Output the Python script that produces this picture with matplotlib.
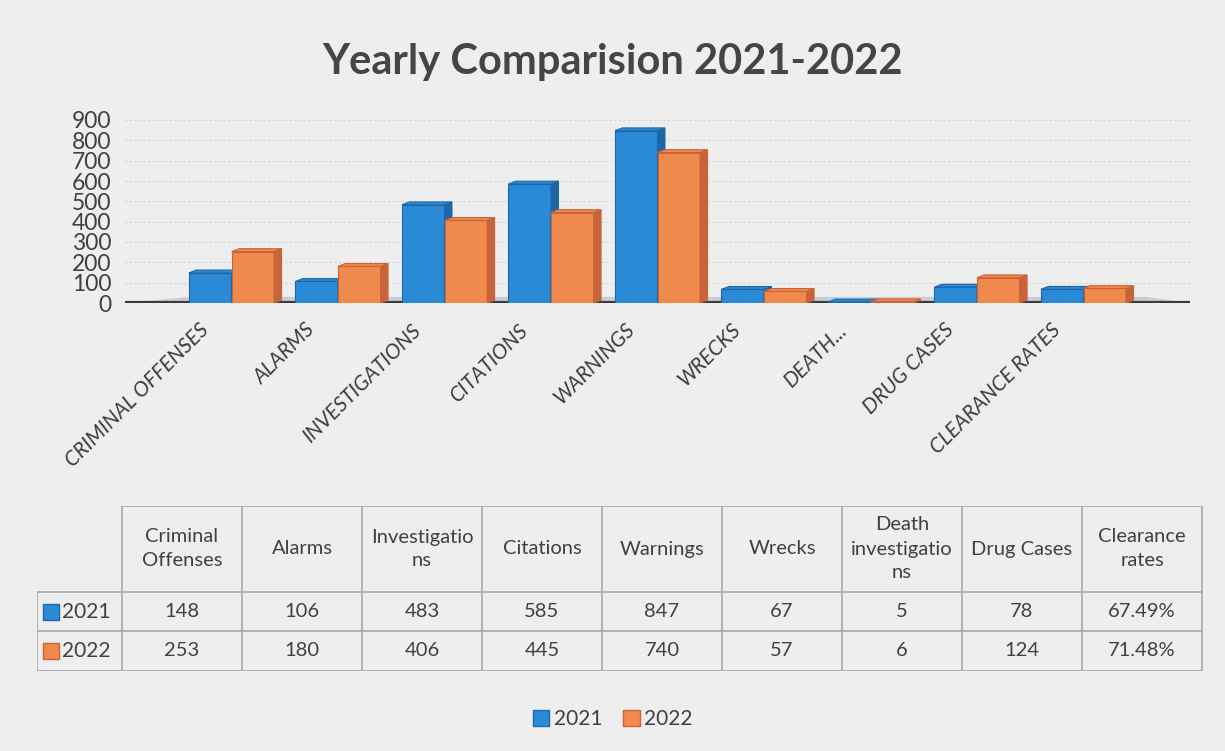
#
# plot.py - yearly comparison 2021-2022, bars with a data table under them
#
import matplotlib
matplotlib.use("Agg")
import matplotlib.pyplot as plt
from matplotlib.patches import Polygon, Rectangle, Patch
from matplotlib.transforms import ScaledTranslation

plt.rcParams['font.family'] = ['Lato', 'DejaVu Sans']

categories = ["CRIMINAL OFFENSES", "ALARMS", "INVESTIGATIONS", "CITATIONS", "WARNINGS",
              "WRECKS", "DEATH...", "DRUG CASES", "CLEARANCE RATES"]
header_labels = ["Criminal\nOffenses", "Alarms", "Investigatio\nns", "Citations", "Warnings",
                 "Wrecks", "Death\ninvestigatio\nns", "Drug Cases", "Clearance\nrates"]
years = ["2021", "2022"]
values_2021 = [148, 106, 483, 585, 847, 67, 5, 78, 67.49]
values_2022 = [253, 180, 406, 445, 740, 57, 6, 124, 71.48]
text_2021 = ["148", "106", "483", "585", "847", "67", "5", "78", "67.49%"]
text_2022 = ["253", "180", "406", "445", "740", "57", "6", "124", "71.48%"]

BLUE = "#2b8ad6"
BLUE_DARK = "#1d67a8"
ORANGE = "#f08a4c"
ORANGE_DARK = "#c8643a"
TEXT = "#404040"


def bar3d(ax, x, h, w, face, side, dx=0.07, dy=14):
    # front face, right side and top of a box standing on the floor
    ax.add_patch(Rectangle((x - w / 2, 0), w, h, facecolor=face, edgecolor=side, lw=0.8, zorder=3))
    ax.add_patch(Polygon([(x + w / 2, 0), (x + w / 2 + dx, dy), (x + w / 2 + dx, h + dy), (x + w / 2, h)],
                         closed=True, facecolor=side, edgecolor=side, lw=0.8, zorder=3))
    ax.add_patch(Polygon([(x - w / 2, h), (x - w / 2 + dx, h + dy), (x + w / 2 + dx, h + dy), (x + w / 2, h)],
                         closed=True, facecolor=face, edgecolor=side, lw=0.8, zorder=3))


def main():
    W, H = 1225, 751
    fig = plt.figure(figsize=(W / 100, H / 100), dpi=100, facecolor="#eeeeee")

    fig.text(0.5, 1 - 62 / H, "Yearly Comparision 2021-2022", ha="center", va="center",
             fontsize=30, fontweight="bold", color="#454545")

    # bar area
    ax = fig.add_axes([125 / W, 1 - 303 / H, 1065 / W, 183 / H])
    ax.set_facecolor("none")
    ax.set_xlim(-1.0, 9.0)
    ax.set_ylim(0, 900)
    ax.set_yticks(range(0, 901, 100))
    ax.tick_params(axis="y", length=0, labelsize=16.5, labelcolor=TEXT, pad=10)
    ax.yaxis.grid(True, color="#d4d4d4", lw=0.8, linestyle=(0, (2, 2)), zorder=0)
    for s in ax.spines.values():
        s.set_visible(False)

    # floor
    ax.add_patch(Polygon([(-1.0, 0), (9.0, 0), (8.6, 30), (-0.4, 30)], closed=True,
                         facecolor="#c9cdd3", edgecolor="none", zorder=1))
    ax.axhline(0, color="#3a3a3a", lw=3, zorder=2)

    w = 0.40
    for i in range(len(categories)):
        bar3d(ax, i - 0.2, values_2021[i], w, BLUE, BLUE_DARK)
        bar3d(ax, i + 0.2, values_2022[i], w, ORANGE, ORANGE_DARK)

    ax.set_xticks(range(len(categories)))
    ax.set_xticklabels(categories, rotation=45, ha="right", rotation_mode="anchor",
                       fontsize=15, color="#3c3c3c", style="italic")
    ax.tick_params(axis="x", length=0, pad=12)
    shift = ScaledTranslation(-0.33, 0, fig.dpi_scale_trans)
    for lab in ax.get_xticklabels():
        lab.set_transform(lab.get_transform() + shift)

    # data table
    tx = fig.add_axes([37 / W, 1 - 671 / H, (1203 - 37) / W, (671 - 506) / H])
    tx.set_xlim(37, 1203)
    tx.set_ylim(671, 506)
    tx.axis("off")
    col_edges = [37, 122] + [122 + 120 * (k + 1) for k in range(len(categories))]
    row_edges = [506, 592, 631, 671]
    grid = "#a8a8a8"
    # horizontal lines
    tx.plot([122, col_edges[-1]], [row_edges[0]] * 2, color=grid, lw=1.2)
    for y in row_edges[1:]:
        tx.plot([37, col_edges[-1]], [y, y], color=grid, lw=1.2)
    # vertical lines
    tx.plot([37, 37], [row_edges[1], row_edges[-1]], color=grid, lw=1.2)
    for x in col_edges[1:]:
        tx.plot([x, x], [row_edges[0], row_edges[-1]], color=grid, lw=1.2)

    for k, lab in enumerate(header_labels):
        cx = (col_edges[k + 1] + col_edges[k + 2]) / 2
        tx.text(cx, (row_edges[0] + row_edges[1]) / 2, lab, ha="center", va="center",
                fontsize=14.5, color=TEXT, linespacing=1.5)
        tx.text(cx, (row_edges[1] + row_edges[2]) / 2, text_2021[k], ha="center", va="center",
                fontsize=14.5, color=TEXT)
        tx.text(cx, (row_edges[2] + row_edges[3]) / 2, text_2022[k], ha="center", va="center",
                fontsize=14.5, color=TEXT)

    for r, (yr, c, e) in enumerate(zip(years, [BLUE, ORANGE], [BLUE_DARK, ORANGE_DARK])):
        cy = (row_edges[r + 1] + row_edges[r + 2]) / 2
        tx.add_patch(Rectangle((43, cy - 8), 16, 16, facecolor=c, edgecolor=e, lw=1))
        tx.text(62, cy, yr, ha="left", va="center", fontsize=15, color=TEXT)

    handles = [Patch(facecolor=BLUE, edgecolor=BLUE_DARK, label="2021"),
               Patch(facecolor=ORANGE, edgecolor=ORANGE_DARK, label="2022")]
    fig.legend(handles=handles, loc="center", bbox_to_anchor=(0.5, 1 - 719 / H), ncol=2,
               frameon=False, fontsize=15, handlelength=0.8, handleheight=0.8,
               handletextpad=0.2, columnspacing=1.0, labelcolor=TEXT)

    fig.savefig("out.png", dpi=100, facecolor=fig.get_facecolor())


if __name__ == "__main__":
    main()
